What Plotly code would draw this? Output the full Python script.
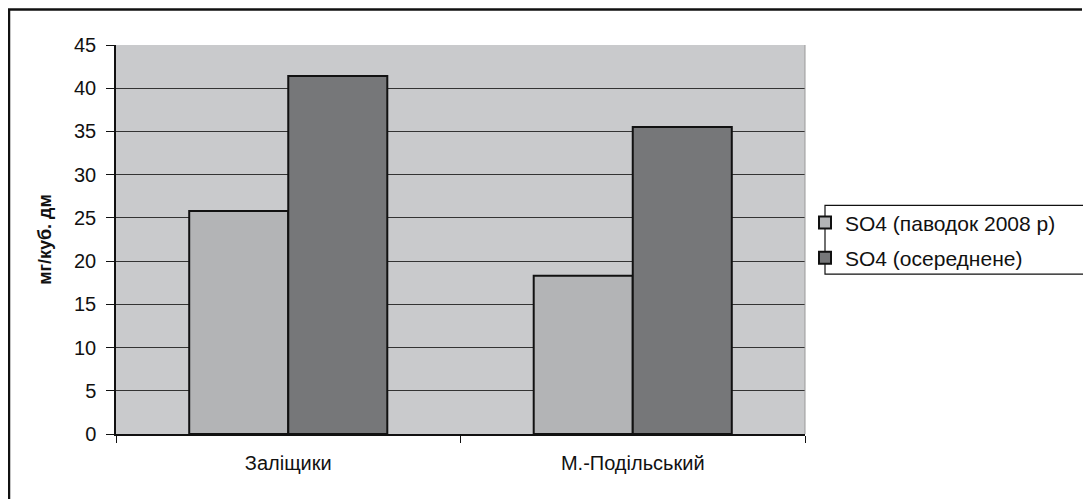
import plotly.graph_objects as go

categories = ["Заліщики", "М.-Подільський"]
flood_2008 = [25.8, 18.3]
averaged = [41.4, 35.5]
series_names = ["SO4 (паводок 2008 р)", "SO4 (осереднене)"]
y_ticks = [0, 5, 10, 15, 20, 25, 30, 35, 40, 45]

# page has an 8px body margin: work in page coordinates minus 8
OFF = 8
W, H = 1091 - OFF, 499 - OFF
L, R, T, B = 116 - OFF, 805 - OFF, 44.5 - OFF, 434 - OFF

def px(x):
    return (x - OFF - L) / (R - L)

def py(y):
    return (B - (y - OFF)) / (B - T)

font = "Liberation Sans, Arial, sans-serif"

fig = go.Figure()
fig.add_trace(go.Bar(x=categories, y=flood_2008, name=series_names[0],
                     marker=dict(color="#b3b4b6", line=dict(color="#111", width=2)),
                     legendgroup="a"))
fig.add_trace(go.Bar(x=categories, y=averaged, name=series_names[1],
                     marker=dict(color="#767779", line=dict(color="#111", width=2)),
                     legendgroup="b"))

fig.update_layout(
    width=W, height=H,
    margin=dict(l=L, r=W - R, t=T, b=H - B, autoexpand=False),
    paper_bgcolor="white",
    plot_bgcolor="#c9cacc",
    bargap=0.425, bargroupgap=0,
    font=dict(family=font, size=20, color="#111"),
    showlegend=True,
    legend=dict(x=px(805), y=py(202), xanchor="left", yanchor="top",
                bgcolor="rgba(0,0,0,0)", borderwidth=0,
                tracegroupgap=5, itemwidth=30,
                font=dict(size=21)),
    xaxis=dict(showgrid=False, ticks="outside", tickson="boundaries",
               ticklen=7, tickcolor="#111", showline=True, linecolor="#111",
               linewidth=1.5, tickfont=dict(size=20), ticklabelstandoff=10),
    yaxis=dict(range=[0, 45], tickvals=y_ticks, ticks="outside", ticklen=8,
               tickcolor="#111", showline=True, linecolor="#111", linewidth=1.5,
               showgrid=True, gridcolor="#333", gridwidth=1.2,
               zeroline=False, ticklabelstandoff=6,
               title=dict(text="<b>мг/куб. дм</b>", font=dict(size=18), standoff=18),
               tickfont=dict(size=20)),
    shapes=[
        dict(type="line", xref="paper", yref="paper", x0=px(8), x1=px(1082),
             y0=py(9), y1=py(9), line=dict(color="#111", width=2.5)),
        dict(type="line", xref="paper", yref="paper", x0=px(9), x1=px(9),
             y0=py(9), y1=py(510), line=dict(color="#111", width=2.5)),
        dict(type="rect", xref="paper", yref="paper", x0=px(825), x1=px(1100),
             y0=py(205), y1=py(274), line=dict(color="#111", width=1.2)),
        dict(type="line", xref="paper", yref="paper", x0=1, x1=1, y0=0, y1=1,
             line=dict(color="#999", width=1)),
    ],
)

fig.write_html("out.html")
